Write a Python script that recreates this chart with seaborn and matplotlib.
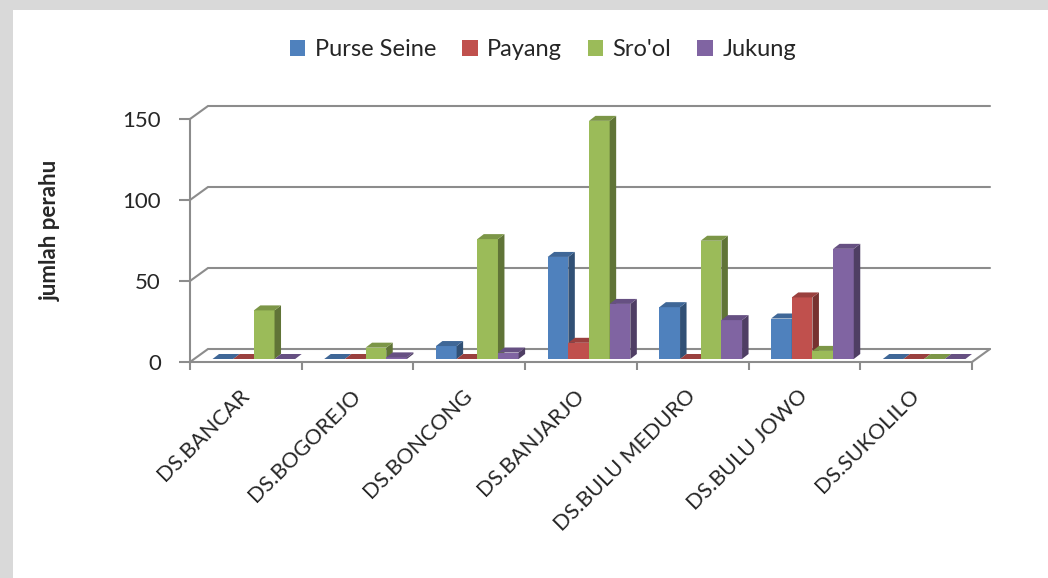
import numpy as np
import pandas as pd
import seaborn as sns
import matplotlib.pyplot as plt
from matplotlib.patches import Polygon, Rectangle, Patch
from matplotlib.transforms import ScaledTranslation
from matplotlib.colors import to_rgb

# data
desa = ['DS.BANCAR', 'DS.BOGOREJO', 'DS.BONCONG', 'DS.BANJARJO',
        'DS.BULU MEDURO', 'DS.BULU JOWO', 'DS.SUKOLILO']
purse_seine = [0, 0, 8, 63, 32, 25, 0]
payang = [0, 0, 0, 10, 0, 38, 0]
sro_ol = [30, 7, 74, 147, 73, 5, 0]
jukung = [0, 1, 4, 34, 24, 68, 0]
jenis = ['Purse Seine', 'Payang', "Sro'ol", 'Jukung']
warna = ['#4F81BD', '#C0504D', '#9BBB59', '#8064A2']
y_ticks = [0, 50, 100, 150]

df = pd.DataFrame({'desa': desa, 'Purse Seine': purse_seine, 'Payang': payang,
                   "Sro'ol": sro_ol, 'Jukung': jukung})
df = df.melt(id_vars='desa', var_name='jenis', value_name='jumlah')

sns.set_style('white')
plt.rcParams['font.family'] = ['Lato', 'DejaVu Sans']

W, H = 1048, 578
fig = plt.figure(figsize=(W / 100, H / 100), dpi=100, facecolor='#d9d9d9')
fig.add_artist(Rectangle((13 / W, 0), 1, 1 - 10 / H, transform=fig.transFigure,
                         facecolor='white', edgecolor='none', zorder=-10))

ax = fig.add_axes([190 / W, 1 - 362 / H, 782 / W, 243 / H])
ax.patch.set_visible(False)

sns.barplot(data=df, x='desa', y='jumlah', hue='jenis', order=desa, hue_order=jenis,
            palette=warna, width=0.74, saturation=1, legend=False, ax=ax)
ax.set_xlim(-0.5, len(desa) - 0.5)
ax.set_ylim(0, 150)

grey = '#8c8c8c'
ppx = 782 / len(desa)   # pixels per category
ppy = 243 / 150         # pixels per unit

# back wall gridlines + floor (fake 3d)
gx, gy = 18 / ppx, 13 / ppy
for v in y_ticks:
    ax.plot([-0.5, -0.5 + gx, len(desa) - 0.5 + gx], [v, v + gy, v + gy],
            color=grey, lw=1.5, clip_on=False, zorder=1, solid_joinstyle='miter')
ax.plot([len(desa) - 0.5, len(desa) - 0.5 + gx], [0, gy], color=grey, lw=1.5,
        clip_on=False, zorder=1)

# bars: shift a bit into the depth, add side and top faces
shift = ax.transData + ScaledTranslation(8 / 100, 3 / 100, fig.dpi_scale_trans)
dx, dy = 6.5 / ppx, 5 / ppy
bars = sorted(ax.patches, key=lambda p: p.get_x())
for i, p in enumerate(bars):
    x0, w, h = p.get_x(), p.get_width(), p.get_height()
    c = np.array(to_rgb(p.get_facecolor()))
    z = 3 + i * 0.01
    p.set_transform(shift)
    p.set_edgecolor('none')
    p.set_zorder(z)
    p.set_clip_on(False)
    side = Polygon([(x0 + w, 0), (x0 + w + dx, dy), (x0 + w + dx, h + dy), (x0 + w, h)],
                   closed=True, facecolor=c * 0.62, edgecolor='none', zorder=z,
                   transform=shift, clip_on=False)
    top = Polygon([(x0, h), (x0 + w, h), (x0 + w + dx, h + dy), (x0 + dx, h + dy)],
                  closed=True, facecolor=c * 0.8, edgecolor='none', zorder=z,
                  transform=shift, clip_on=False)
    ax.add_patch(side)
    ax.add_patch(top)

sns.despine(ax=ax, top=True, right=True)
for s in ['left', 'bottom']:
    ax.spines[s].set_color(grey)
    ax.spines[s].set_linewidth(1.5)

ax.set_yticks(y_ticks)
ax.tick_params(axis='y', length=8, width=1.5, color=grey, pad=13, labelsize=16,
               direction='out', left=True)
ax.set_xticks(range(len(desa)))
ax.set_xticklabels(desa, rotation=45, ha='right', va='center', rotation_mode='anchor')
ax.set_xticks(np.arange(-0.5, len(desa), 1), minor=True)
ax.tick_params(axis='x', which='major', length=0, pad=22, labelsize=15.5)
ax.tick_params(axis='x', which='minor', length=6, width=1.5, color=grey,
               direction='out', bottom=True)
ax.set_xlabel('')
ax.set_ylabel('')

fig.text(50 / W, 1 - 230 / H, 'jumlah perahu', rotation=90, ha='center', va='center',
         fontsize=16, fontweight='bold')

handles = [Patch(facecolor=c, edgecolor='none') for c in warna]
fig.legend(handles, jenis, loc='center', bbox_to_anchor=(543 / W, 1 - 50 / H),
           ncol=4, frameon=False, fontsize=17, handlelength=0.65, handleheight=0.65,
           handletextpad=0.4, columnspacing=1.1)

fig.savefig('out.png', dpi=100, facecolor=fig.get_facecolor())
